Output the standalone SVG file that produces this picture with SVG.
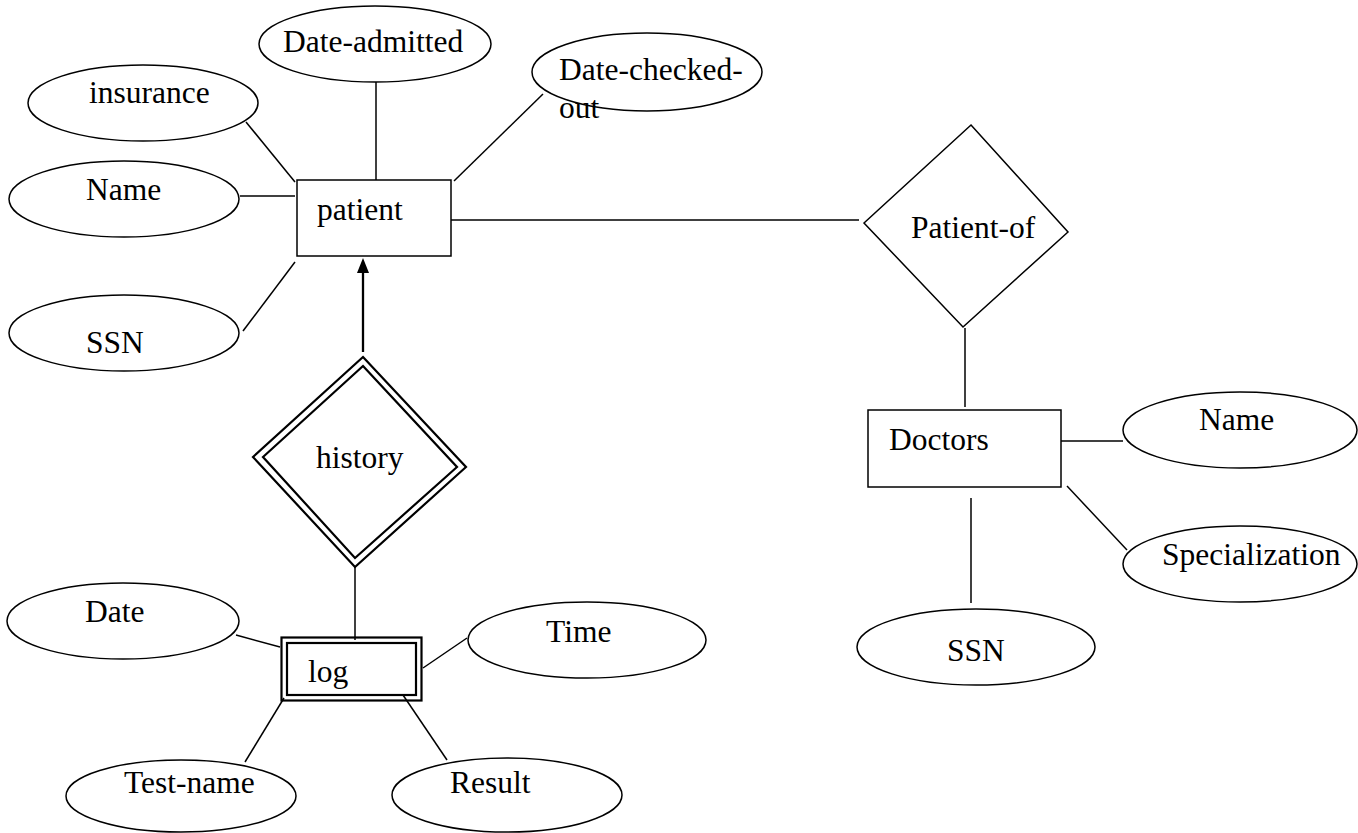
<svg xmlns="http://www.w3.org/2000/svg" width="1358" height="833" viewBox="0 0 1358 833">
<style>
.sh{fill:#fff;stroke:#000;stroke-width:1.5}
.dbl{fill:none;stroke:#000;stroke-width:2.2}
.ln{stroke:#000;stroke-width:1.5;fill:none}
.t{font-family:"Liberation Serif","Times New Roman",serif;font-size:31.5px;fill:#000}
</style>
<rect width="1358" height="833" fill="#fff"/>
<g id="connectors">
<line class="ln" x1="246" y1="122" x2="295" y2="182"/>
<line class="ln" x1="376" y1="82" x2="376" y2="180"/>
<line class="ln" x1="240" y1="196" x2="295" y2="196"/>
<line class="ln" x1="243" y1="331" x2="295" y2="262"/>
<line class="ln" x1="543" y1="94" x2="454" y2="181"/>
<line class="ln" x1="451" y1="220" x2="859" y2="220"/>
<line class="ln" x1="965" y1="328" x2="965" y2="407"/>
<line class="ln" x1="1061" y1="441" x2="1123" y2="441"/>
<line class="ln" x1="1067" y1="486" x2="1127" y2="550"/>
<line class="ln" x1="971" y1="498" x2="971" y2="603"/>
<line stroke="#000" stroke-width="2.3" x1="363" y1="352" x2="363" y2="270"/>
<polygon points="363,258 357,273 369,273" fill="#000"/>
<line class="ln" x1="355" y1="567" x2="355" y2="640"/>
<line class="ln" x1="236" y1="635" x2="280" y2="647"/>
<line class="ln" x1="423" y1="668" x2="467" y2="638"/>
<line class="ln" x1="284" y1="698" x2="245" y2="762"/>
<line class="ln" x1="403" y1="695" x2="447" y2="760"/>
</g>
<g id="insurance"><ellipse class="sh" cx="143" cy="103" rx="115" ry="38"/><text class="t" x="89" y="103">insurance</text></g>
<g id="date-admitted"><ellipse class="sh" cx="375" cy="44" rx="116" ry="38"/><text class="t" x="283" y="52">Date-admitted</text></g>
<g id="name-p"><ellipse class="sh" cx="124" cy="199" rx="115" ry="38"/><text class="t" x="86" y="200">Name</text></g>
<g id="ssn-p"><ellipse class="sh" cx="124" cy="333" rx="115" ry="38"/><text class="t" x="86" y="353">SSN</text></g>
<g id="date-checked-out"><ellipse class="sh" cx="647" cy="72" rx="115" ry="39"/><text class="t" x="559" y="80">Date-checked-</text><text class="t" x="559" y="118">out</text></g>
<g id="patient"><rect class="sh" x="297" y="180" width="154" height="76"/><text class="t" x="317" y="220">patient</text></g>
<g id="patient-of"><polygon class="sh" points="971,125 1068,232 963,327 864,223"/><text class="t" x="911" y="238">Patient-of</text></g>
<g id="doctors"><rect class="sh" x="868" y="410" width="193" height="77"/><text class="t" x="889" y="450">Doctors</text></g>
<g id="name-d"><ellipse class="sh" cx="1240" cy="430" rx="117" ry="38"/><text class="t" x="1199" y="430">Name</text></g>
<g id="specialization"><ellipse class="sh" cx="1240" cy="564" rx="117" ry="38"/><text class="t" x="1162" y="565">Specialization</text></g>
<g id="ssn-d"><ellipse class="sh" cx="976" cy="647" rx="119" ry="38"/><text class="t" x="947" y="661">SSN</text></g>
<g id="history"><polygon class="dbl" fill="#fff" points="363,357 466,467 355,567 253,457"/><polygon class="dbl" points="363,366 457,467 355,558 263,457"/><text class="t" x="316" y="468">history</text></g>
<g id="log"><rect class="dbl" x="281.5" y="637.5" width="140" height="63"/><rect class="dbl" x="287" y="643" width="129" height="52"/><text class="t" x="308" y="682">log</text></g>
<g id="date"><ellipse class="sh" cx="123" cy="621" rx="116" ry="38"/><text class="t" x="85" y="622">Date</text></g>
<g id="time"><ellipse class="sh" cx="587" cy="640" rx="119" ry="38"/><text class="t" x="546" y="642">Time</text></g>
<g id="test-name"><ellipse class="sh" cx="181" cy="796" rx="115" ry="36"/><text class="t" x="124" y="793">Test-name</text></g>
<g id="result"><ellipse class="sh" cx="507" cy="795" rx="115" ry="37"/><text class="t" x="450" y="793">Result</text></g>
</svg>
